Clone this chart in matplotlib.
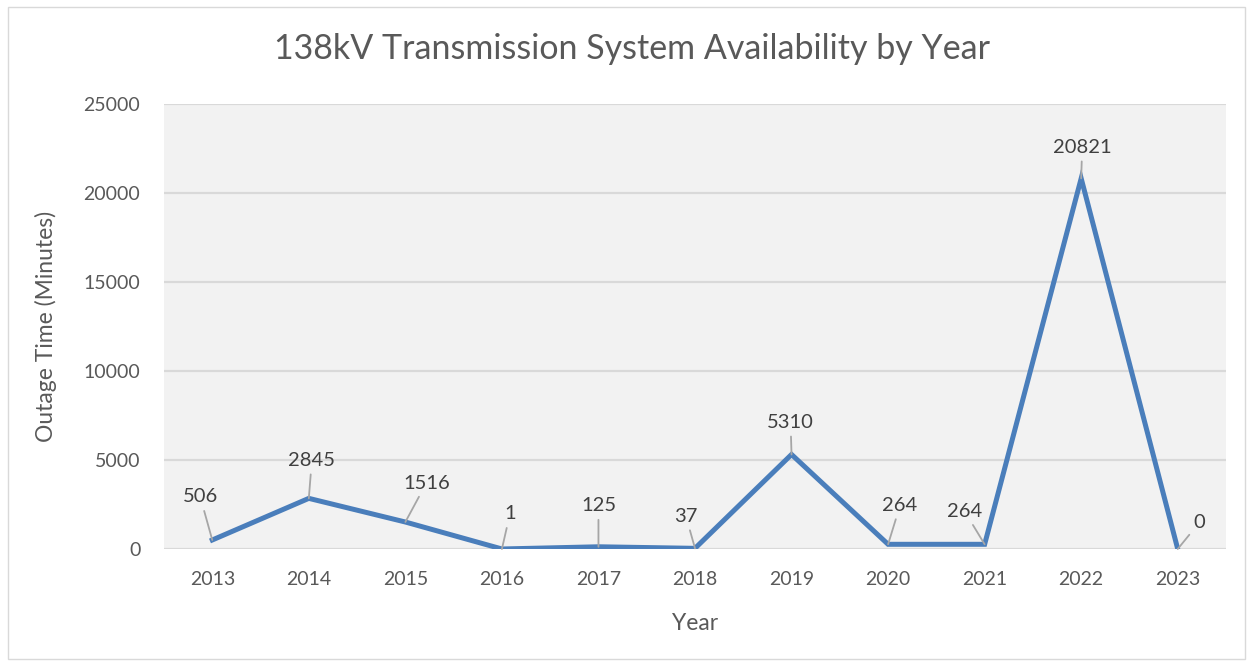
import matplotlib.pyplot as plt
from matplotlib.patches import Rectangle

plt.rcParams['font.family'] = ['Lato', 'DejaVu Sans']

years = ['2013', '2014', '2015', '2016', '2017', '2018', '2019', '2020', '2021', '2022', '2023']
outage = [506, 2845, 1516, 1, 125, 37, 5310, 264, 264, 20821, 0]
# label offsets (pixels) relative to each point
label_dx = [-12, 3, 21, 8, 0, -9, -1, 12, -20, 1, 22]
label_dy = [43, 38, 39, 35, 41, 32, 32, 39, 33, 31, 27]

fig = plt.figure(figsize=(12.53, 6.66), dpi=100)
fig.patches.append(Rectangle((0.006, 0.01), 0.988, 0.98, transform=fig.transFigure,
                             fill=False, edgecolor='#d9d9d9', linewidth=1))
ax = fig.add_axes([164 / 1253, 1 - 549 / 666, 1062 / 1253, 445 / 666])
ax.set_facecolor('#f2f2f2')

x = list(range(len(years)))
ax.plot(x, outage, color='#4a7ebb', linewidth=3.6, solid_joinstyle='miter', zorder=3)

for i, v in enumerate(outage):
    ax.annotate(str(v), xy=(i, v), xytext=(label_dx[i], label_dy[i]),
                textcoords='offset pixels', ha='center', va='center',
                fontsize=14.5, color='#404040',
                arrowprops=dict(arrowstyle='-', color='#a6a6a6', lw=1.3,
                                shrinkA=2, shrinkB=0), zorder=4)

ax.set_xlim(-0.5, len(years) - 0.5)
ax.set_ylim(0, 25000)
ax.set_yticks([0, 5000, 10000, 15000, 20000, 25000])
ax.set_xticks(x)
ax.set_xticklabels(years)
ax.grid(axis='y', color='#d9d9d9', linewidth=1.6)
ax.set_axisbelow(True)
for s in ax.spines.values():
    s.set_visible(False)
ax.tick_params(length=0, labelsize=14, labelcolor='#595959')
ax.tick_params(axis='x', pad=16)
ax.tick_params(axis='y', pad=17)

ax.set_xlabel('Year', fontsize=16.5, color='#595959', labelpad=18)
ax.set_ylabel('Outage Time (Minutes)', fontsize=16.5, color='#595959', labelpad=19)
fig.text(632 / 1253, 1 - 49 / 666, '138kV Transmission System Availability by Year',
         ha='center', va='center', fontsize=24.5, color='#595959')

fig.savefig('out.png', dpi=100, facecolor='white')
